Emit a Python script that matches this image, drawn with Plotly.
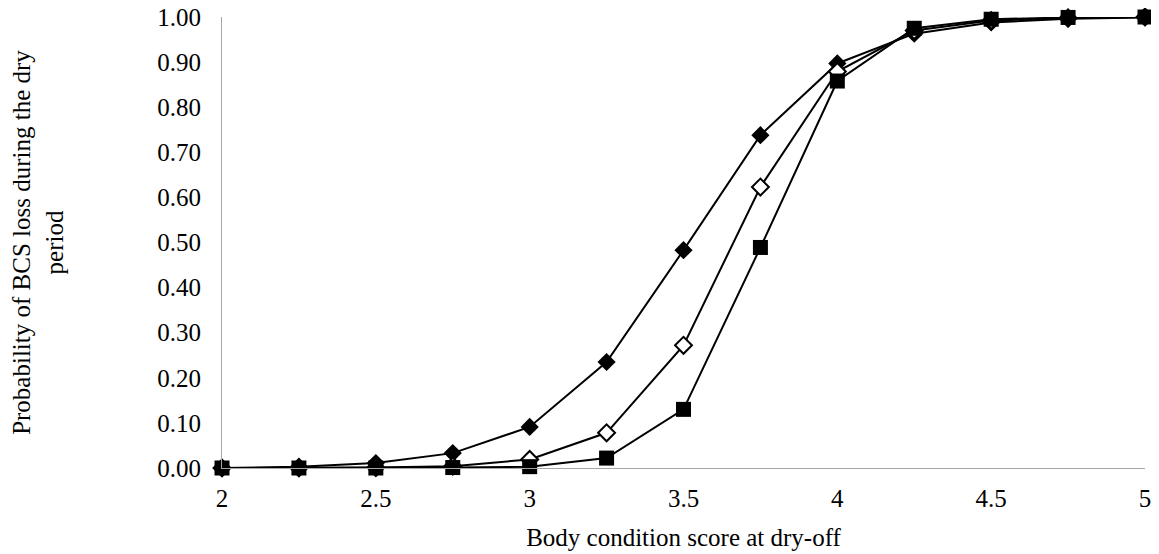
import plotly.graph_objects as go

bcs = [2, 2.25, 2.5, 2.75, 3, 3.25, 3.5, 3.75, 4, 4.25, 4.5, 4.75, 5]
series_a = [0.000, 0.003, 0.011, 0.033, 0.091, 0.235, 0.483, 0.738, 0.897, 0.963, 0.988, 0.996, 0.999]
series_b = [0.000, 0.000, 0.001, 0.004, 0.019, 0.078, 0.272, 0.623, 0.879, 0.970, 0.992, 0.998, 1.000]
series_c = [0.000, 0.000, 0.000, 0.001, 0.003, 0.022, 0.130, 0.489, 0.858, 0.975, 0.995, 0.999, 1.000]
x_ticks = [2, 2.5, 3, 3.5, 4, 4.5, 5]
y_ticks = [0.0, 0.1, 0.2, 0.3, 0.4, 0.5, 0.6, 0.7, 0.8, 0.9, 1.0]

fig = go.Figure()
fig.add_trace(go.Scatter(x=bcs, y=series_a, mode="lines+markers",
                         line=dict(color="black", width=2),
                         marker=dict(symbol="diamond", size=14, color="black"),
                         cliponaxis=False, showlegend=False))
fig.add_trace(go.Scatter(x=bcs, y=series_b, mode="lines+markers",
                         line=dict(color="black", width=2),
                         marker=dict(symbol="diamond", size=13, color="white",
                                     line=dict(color="black", width=2)),
                         cliponaxis=False, showlegend=False))
fig.add_trace(go.Scatter(x=bcs, y=series_c, mode="lines+markers",
                         line=dict(color="black", width=2),
                         marker=dict(symbol="square", size=15, color="black"),
                         cliponaxis=False, showlegend=False))

font_family = "Liberation Serif, Times New Roman, serif"
fig.update_layout(
    template="none",
    width=1151, height=546,
    margin=dict(l=214, r=14, t=9, b=86, autoexpand=False),
    paper_bgcolor="white", plot_bgcolor="white",
    font=dict(family=font_family, size=25, color="black"),
    xaxis=dict(range=[2, 5], tickvals=x_ticks, ticktext=[f"{v:g}" for v in x_ticks],
               showgrid=False, zeroline=False, showline=True, linecolor="#a6a6a6",
               linewidth=1, ticks="", automargin=False, ticklabelstandoff=8,
               ticklabeloverflow="allow", tickfont=dict(size=25),
               title=dict(text="Body condition score at dry-off", font=dict(size=25), standoff=17)),
    yaxis=dict(range=[0, 1], tickvals=y_ticks, ticktext=[f"{v:.2f}" for v in y_ticks],
               showgrid=False, zeroline=False, showline=True, linecolor="#a6a6a6",
               linewidth=1, ticks="", automargin=False, ticklabelstandoff=15,
               ticklabeloverflow="allow", tickfont=dict(size=25),
               title=dict(text="Probability of BCS loss during the dry<br>period",
                          font=dict(size=25), standoff=95)),
)

fig.write_html("out.html")
